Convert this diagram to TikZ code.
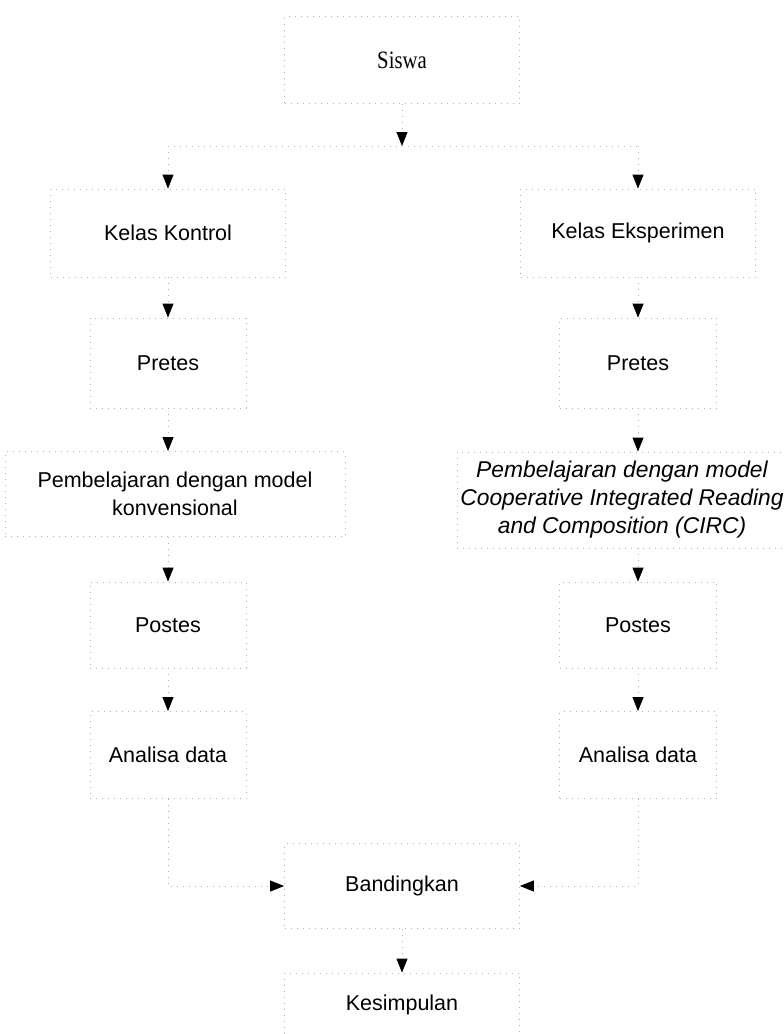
\documentclass[tikz,border=0pt]{standalone}
\usepackage{fontspec}
\setmainfont{Liberation Sans}
\newfontfamily\seriffont{Liberation Serif}
\usetikzlibrary{arrows.meta}
\begin{document}
\begin{tikzpicture}[x=1pt,y=-1pt,
  faint/.style={draw=black!30, dash pattern=on 1pt off 5pt, line width=0.8pt},
  box/.style={faint, inner sep=0pt, align=center, font=\fontsize{21.5}{28}\selectfont},
  conn/.style={faint},
  arr/.style={faint, -{Triangle[width=11pt,length=14pt,color=black]}},
]
\useasboundingbox (0,0) rectangle (784,1034);
% nodes
\node[box, minimum width=235pt, minimum height=87pt, font=\seriffont\fontsize{25}{30}\selectfont] (siswa) at (402,60) {\scalebox{0.83}[1]{Siswa}};
\node[box, minimum width=235pt, minimum height=88pt] (kk) at (168,233) {Kelas Kontrol};
\node[box, minimum width=235pt, minimum height=88pt] (ke) at (638,233) {Kelas Eksperimen};
\node[box, minimum width=156pt, minimum height=90pt] (p1) at (168,363) {Pretes};
\node[box, minimum width=157pt, minimum height=90pt] (p2) at (638,363) {Pretes};
\node[box, minimum width=340pt, minimum height=85pt] (pb1) at (175,494) {Pembelajaran dengan model\\konvensional};
\node[box, minimum width=330pt, minimum height=96pt, font=\fontsize{22.8}{28}\selectfont\itshape] (pb2) at (622,500) {Pembelajaran dengan model\\Cooperative Integrated Reading\\and Composition (CIRC)};
\node[box, minimum width=156pt, minimum height=86pt] (q1) at (168,625) {Postes};
\node[box, minimum width=157pt, minimum height=86pt] (q2) at (638,625) {Postes};
\node[box, minimum width=156pt, minimum height=87pt] (a1) at (168,755) {Analisa data};
\node[box, minimum width=157pt, minimum height=87pt] (a2) at (638,755) {Analisa data};
\node[box, minimum width=235pt, minimum height=85pt] (band) at (402,886) {Bandingkan};
\node[box, minimum width=235pt, minimum height=64pt] (kes) at (402,1005) {Kesimpulan};
% connectors
\coordinate (sp) at (402,146);
\coordinate (spL) at (168,146);
\coordinate (spR) at (638,146);
\draw[arr] (siswa.south) -- (sp);
\draw[conn] (spL) -- (spR);
\draw[arr] (spL) -- (kk.north);
\draw[arr] (spR) -- (ke.north);
\draw[arr] (kk.south) -- (p1.north);
\draw[arr] (ke.south) -- (p2.north);
\draw[arr] (p1.south) -- (p1.south |- pb1.north);
\draw[arr] (p2.south) -- (p2.south |- pb2.north);
\draw[arr] (q1.north |- pb1.south) -- (q1.north);
\draw[arr] (q2.north |- pb2.south) -- (q2.north);
\draw[arr] (q1.south) -- (a1.north);
\draw[arr] (q2.south) -- (a2.north);
\draw[arr] (a1.south) |- (band.west);
\draw[arr] (a2.south) |- (band.east);
\draw[arr] (band.south) -- (kes.north);
\end{tikzpicture}
\end{document}
